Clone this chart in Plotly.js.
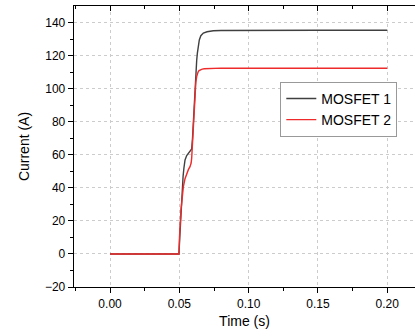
<!DOCTYPE html>
<html>
<head>
<meta charset="utf-8">
<script src="https://cdn.plot.ly/plotly-3.0.1.min.js"></script>
<style>html,body{margin:0;padding:0;background:#fff;}#chart{width:415px;height:333px;}</style>
</head>
<body>
<div id="chart"></div>
<script>
const seriesNames = ["MOSFET 1", "MOSFET 2"];
const time1 = [0.000, 0.0497, 0.0503, 0.0509, 0.0515, 0.0521, 0.0527, 0.0533, 0.0541, 0.0553, 0.0565, 0.0577, 0.0589, 0.0595, 0.0601, 0.0607, 0.0613, 0.0619, 0.0625, 0.0630, 0.0635, 0.0644, 0.0655, 0.0665, 0.0673, 0.0700, 0.0745, 0.0800, 0.100, 0.150, 0.200];
const current1 = [0, 0, 10, 20.6, 31, 40.7, 47, 52, 56.9, 59.5, 61, 62, 63.5, 70, 81, 91, 101, 110, 117, 121.5, 125, 129.5, 132, 133.1, 133.6, 134.4, 135, 135.2, 135.3, 135.3, 135.3];
const time2 = [0.000, 0.0497, 0.0501, 0.0505, 0.0511, 0.0517, 0.0523, 0.0529, 0.0541, 0.0553, 0.0565, 0.0577, 0.0585, 0.0589, 0.0595, 0.0601, 0.0607, 0.0613, 0.0619, 0.0625, 0.0630, 0.0635, 0.0642, 0.0650, 0.0665, 0.0680, 0.0722, 0.0800, 0.100, 0.150, 0.200];
const current2 = [0, 0, 10, 20, 26, 31, 36, 40.7, 45.5, 48.8, 51, 52.8, 55, 58, 68, 81, 91, 98, 104, 107.3, 109, 110, 110.9, 111.4, 111.8, 112, 112.3, 112.4, 112.3, 112.3, 112.3];
const lineColors = ["#404040", "#ee2a2a"];

const traces = [
  {x: time1, y: current1, name: seriesNames[0], mode: "lines", line: {color: lineColors[0], width: 1.4}},
  {x: time2, y: current2, name: seriesNames[1], mode: "lines", line: {color: lineColors[1], width: 1.4}},
  {x: [0.1], y: [0], xaxis: "x2", mode: "markers", marker: {opacity: 0}, showlegend: false, hoverinfo: "skip"}
];

const fontFam = "Liberation Sans, Arial, sans-serif";
const layout = {
  width: 415, height: 333,
  margin: {l: 74, r: 0, t: 6, b: 46},
  paper_bgcolor: "#fff", plot_bgcolor: "#fff",
  font: {family: fontFam, color: "#000", size: 12},
  showlegend: true,
  legend: {x: 0.605, y: 0.73, xanchor: "left", yanchor: "top", bgcolor: "#fff", bordercolor: "#999", borderwidth: 1,
           font: {family: fontFam, size: 14, color: "#000"}, tracegroupgap: 0, itemwidth: 30},
  xaxis: {
    range: [-0.026, 0.22], tickvals: [0, 0.05, 0.1, 0.15, 0.2], ticktext: ["0.00", "0.05", "0.10", "0.15", "0.20"],
    showline: true, linecolor: "#000", linewidth: 1.3, ticks: "outside", ticklen: 5, tickcolor: "#000", tickwidth: 1,
    minor: {tickvals: [-0.025, 0.025, 0.075, 0.125, 0.175], ticks: "outside", ticklen: 3, tickcolor: "#000", showgrid: false},
    showgrid: true, gridcolor: "#cccccc", griddash: "dot", gridwidth: 1, zeroline: false,
    tickfont: {size: 12, family: fontFam},
    title: {text: "Time (s)", font: {size: 14, family: fontFam}, standoff: 6}
  },
  xaxis2: {
    overlaying: "x", side: "top", range: [-0.026, 0.22], tickvals: [0, 0.05, 0.1, 0.15, 0.2],
    showticklabels: false, showline: true, linecolor: "#000", linewidth: 1.3, ticks: "inside", ticklen: 5, tickcolor: "#000",
    minor: {tickvals: [-0.025, 0.025, 0.075, 0.125, 0.175], ticks: "inside", ticklen: 3, tickcolor: "#000", showgrid: false},
    showgrid: false, zeroline: false
  },
  yaxis: {
    range: [-20, 150], tickvals: [-20, 0, 20, 40, 60, 80, 100, 120, 140],
    showline: true, linecolor: "#000", linewidth: 1.3, ticks: "outside", ticklen: 5, tickcolor: "#000",
    minor: {tickvals: [-10, 10, 30, 50, 70, 90, 110, 130], ticks: "outside", ticklen: 3, tickcolor: "#000", showgrid: false},
    showgrid: true, gridcolor: "#cccccc", griddash: "dot", gridwidth: 1, zeroline: false,
    tickfont: {size: 12, family: fontFam},
    title: {text: "Current (A)", font: {size: 14, family: fontFam}, standoff: 12}
  }
};

Plotly.newPlot("chart", traces, layout, {staticPlot: true, displayModeBar: false});
</script>
</body>
</html>
